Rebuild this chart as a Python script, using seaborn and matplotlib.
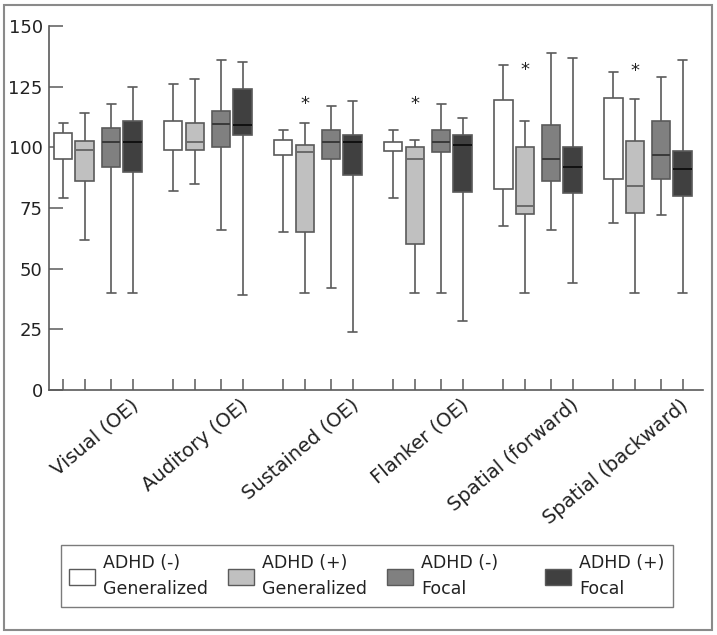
import numpy as np
import pandas as pd
import seaborn as sns
import matplotlib
matplotlib.use("Agg")
import matplotlib.pyplot as plt
from matplotlib.patches import Patch, Rectangle
from matplotlib.transforms import ScaledTranslation

# 검사 항목
tests = ["Visual (OE)", "Auditory (OE)", "Sustained (OE)", "Flanker (OE)",
         "Spatial (forward)", "Spatial (backward)"]
groups = ["ADHD (-)\nGeneralized", "ADHD (+)\nGeneralized",
          "ADHD (-)\nFocal", "ADHD (+)\nFocal"]

# 각 상자: [min, Q1, median, Q3, max]
neg_gen = [[79, 95, 100, 106, 110], [82, 99, 105, 111, 126], [65, 97, 100, 103, 107],
           [79, 98.5, 100, 102, 107], [67.5, 83, 100, 119.5, 134], [69, 87, 105, 120.5, 131]]
pos_gen = [[62, 86, 99, 102.5, 114], [85, 99, 102, 110, 128], [40, 65, 98, 101, 110],
           [40, 60, 95, 100, 103], [40, 72.5, 76, 100, 111], [40, 73, 84, 102.5, 120]]
neg_focal = [[40, 92, 102, 108, 118], [66, 100, 109.5, 115, 136], [42, 95, 102, 107, 117],
             [40, 98, 102, 107, 118], [66, 86, 95, 109, 139], [72, 87, 97, 111, 129]]
pos_focal = [[40, 90, 102, 111, 125], [39, 105, 109, 124, 135], [24, 88.5, 102, 105, 119],
             [28.5, 81.5, 101, 105, 112], [44, 81, 92, 100, 137], [40, 80, 91, 98.5, 136]]
# 유의성 표시(*) 높이, ADHD (+) Generalized 위
star_y = [None, None, 118, 118, 132, 131.5]

series = [neg_gen, pos_gen, neg_focal, pos_focal]
fills = ["#ffffff", "#c0c0c0", "#808080", "#404040"]
medians = ["#ffffff", "#6a6a6a", "#3a3a3a", "#111111"]
median_lw = [0, 1.4, 1.4, 1.4]  # 흰 상자는 중앙값 선이 안 보임
edge = "#5a5a5a"

group_step = 108
offsets = [0, 21, 47, 68]

rows = []
for gi, (name, boxes) in enumerate(zip(groups, series)):
    for ti, vals in enumerate(boxes):
        for v in vals:
            rows.append({"pos": ti * group_step + offsets[gi], "group": name, "score": v})
df = pd.DataFrame(rows)

sns.set_style("white")
plt.rcParams["font.family"] = ["DejaVu Sans"]

fig = plt.figure(figsize=(7.17, 6.35), dpi=100)
ax = fig.add_axes([49 / 717, 1 - 390 / 635, 654 / 717, 364 / 635])

for name, fc, mc, mlw in zip(groups, fills, medians, median_lw):
    sub = df[df["group"] == name]
    sns.boxplot(data=sub, x="pos", y="score", orient="x", native_scale=True,
                width=18 / group_step, color=fc, saturation=1, linecolor=edge,
                linewidth=1.2, whis=(0, 100), showfliers=False,
                medianprops={"color": mc, "linewidth": mlw}, ax=ax)

for ti, sy in enumerate(star_y):
    if sy is not None:
        ax.text(ti * group_step + offsets[1], sy, "*", ha="center", va="center",
                fontsize=13, color="#222222")

ax.set_xlim(-14, 5 * group_step + offsets[-1] + 20)
ax.set_ylim(0, 150)
ax.set_yticks(range(0, 151, 25))
ax.set_xlabel("")
ax.set_ylabel("")

centers = [ti * group_step + np.mean(offsets) for ti in range(len(tests))]
ax.set_xticks(centers)
ax.set_xticklabels(tests, rotation=40, ha="right", rotation_mode="anchor")
box_pos = [ti * group_step + o for ti in range(len(tests)) for o in offsets]
ax.set_xticks(box_pos, minor=True)
ax.tick_params(axis="x", which="both", bottom=True)
ax.tick_params(axis="y", which="both", left=True)
ax.tick_params(axis="x", which="major", length=0, pad=4, labelsize=14, colors="#222222")
ax.tick_params(axis="x", which="minor", direction="in", length=8, width=1.1, color=edge)
ax.tick_params(axis="y", direction="in", length=10, width=1.1, color=edge,
               labelsize=13, labelcolor="#222222", pad=4.5)
for lab in ax.get_xticklabels():
    lab.set_transform(lab.get_transform() + ScaledTranslation(0.32, 0, fig.dpi_scale_trans))

sns.despine(ax=ax)
for s in ["left", "bottom"]:
    ax.spines[s].set_color(edge)
    ax.spines[s].set_linewidth(1.2)

handles = [Patch(facecolor=fc, edgecolor=edge, linewidth=1.0) for fc in fills]
# 열 너비를 맞추려고 세 번째 열만 공백으로 채움
leg_labels = list(groups)
leg_labels[2] = leg_labels[2].replace("\n", "     \n")
leg = fig.legend(handles, leg_labels, loc="center", bbox_to_anchor=(367 / 717, 1 - 576 / 635),
                 ncol=4, fontsize=12.5, frameon=True, fancybox=False, edgecolor=edge,
                 handlelength=1.5, handleheight=1.0, columnspacing=1.15, handletextpad=0.45,
                 borderpad=0.5, labelspacing=0.3)
leg.get_frame().set_linewidth(1.0)
for t in leg.get_texts():
    t.set_linespacing(1.6)
    t.set_color("#222222")

fig.patches.append(Rectangle((4 / 717, 5 / 635), 708 / 717, 625 / 635,
                             transform=fig.transFigure, fill=False,
                             edgecolor="#8a8a8a", linewidth=1.5))

fig.savefig("out.png", dpi=100)
